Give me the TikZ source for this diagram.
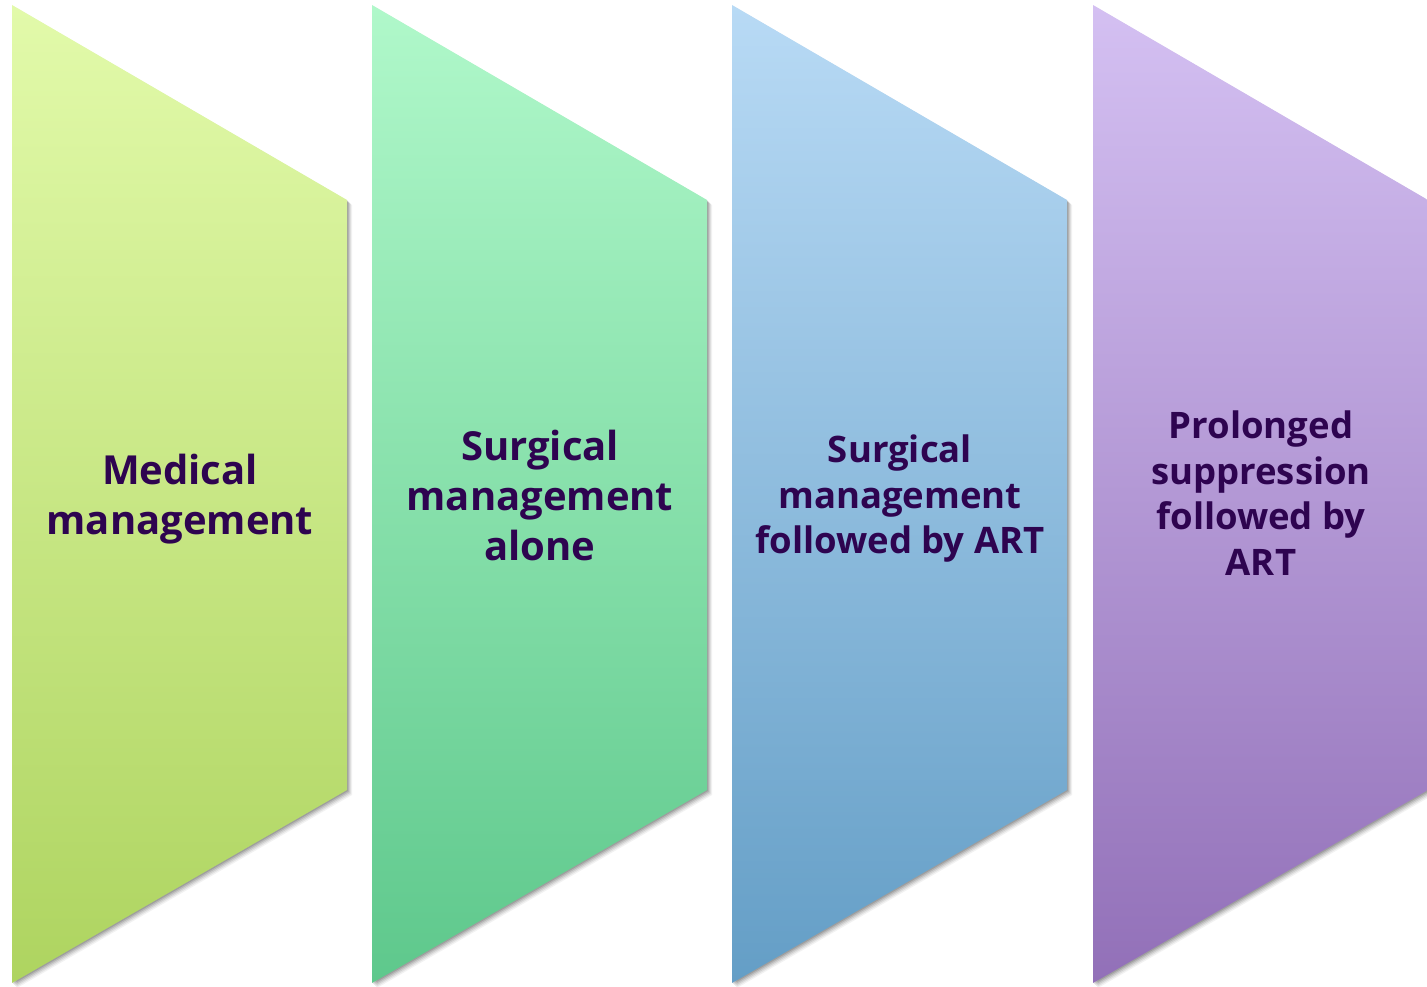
\documentclass[tikz,border=0pt]{standalone}
\usepackage{fontspec}
\setmainfont{Open Sans}
\begin{document}
\begin{tikzpicture}[x=1pt,y=-1pt,
  lbl/.style={align=center,text=txtc},
  big/.style={font=\fontsize{40}{50}\selectfont\bfseries},
  mid/.style={font=\fontsize{36.5}{45.5}\selectfont\bfseries}]
\definecolor{txtc}{RGB}{46,4,80}
\definecolor{aT}{RGB}{226,250,170}\definecolor{aB}{RGB}{174,212,96}
\definecolor{bT}{RGB}{176,248,202}\definecolor{bB}{RGB}{94,200,140}
\definecolor{cT}{RGB}{184,218,245}\definecolor{cB}{RGB}{100,158,198}
\definecolor{dT}{RGB}{212,192,242}\definecolor{dB}{RGB}{146,112,184}
\useasboundingbox (0,0) rectangle (1427,986);
\clip (0,0) rectangle (1427,986);
\def\chev#1{(#1,5) -- ++(335,195) -- ++(0,590) -- ++(-335,193) -- cycle}
\foreach \x/\t/\b in {12/aT/aB,372/bT/bB,732/cT/cB,1093/dT/dB}{
  \foreach \o/\op in {5/0.05,4/0.07,3/0.09,2/0.11,1/0.13}{
    \fill[black,opacity=\op] ([xshift=\o pt,yshift=-\o pt]\x,5) -- ++(335,195) -- ++(0,590) -- ++(-335,193) -- cycle;
  }
  \shade[top color=\t,bottom color=\b] \chev{\x};
}
\node[lbl,big] (n1) at (180,499) {Medical\\management};
\node[lbl,big] (n2) at (540,495) {Surgical\\management\\alone};
\node[lbl,mid] (n3) at (900,499) {Surgical\\management\\followed by ART};
\node[lbl,mid] (n4) at (1261,493) {Prolonged\\suppression\\followed by\\ART};
\end{tikzpicture}
\end{document}
